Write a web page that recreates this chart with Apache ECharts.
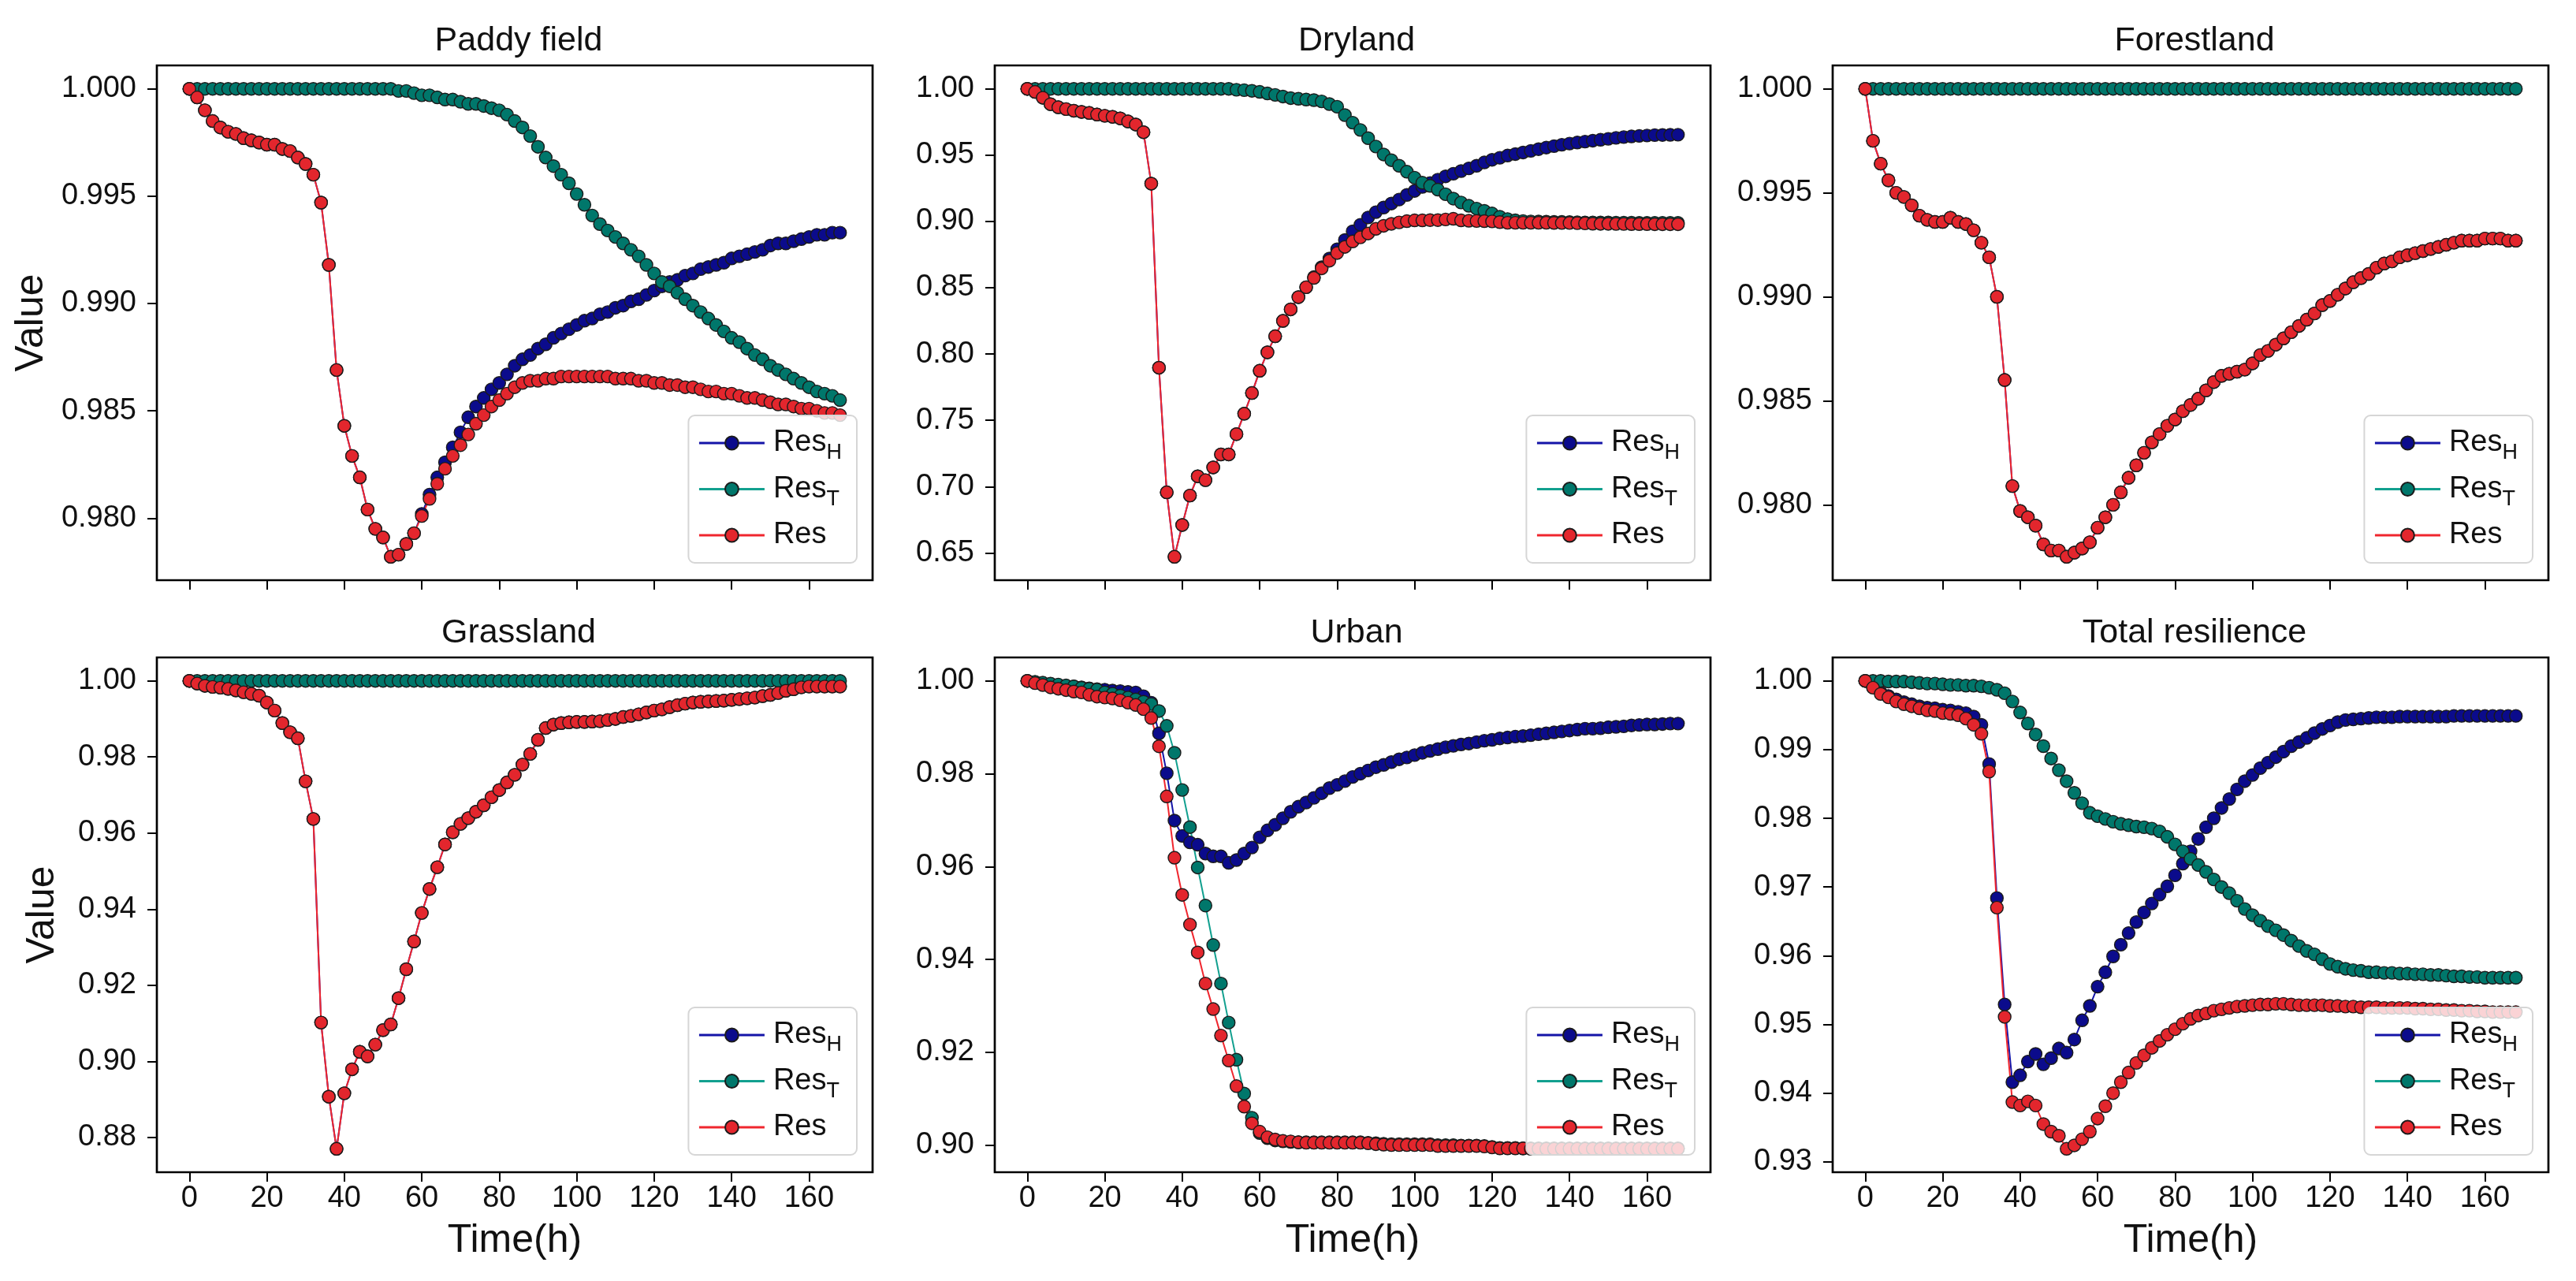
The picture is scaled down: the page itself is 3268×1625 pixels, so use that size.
<!DOCTYPE html>
<html>
<head>
<meta charset="utf-8">
<script src="https://cdn.jsdelivr.net/npm/echarts@6.0.0/dist/echarts.min.js"></script>
<style>
  html, body { margin: 0; padding: 0; background: #fff; }
  #chart { width: 3268px; height: 1625px; }
</style>
</head>
<body>
<div id="chart"></div>
<script>
// time axis (hours), one sample every 2 h
const hours = [
  0, 2, 4, 6, 8, 10, 12, 14, 16, 18,
  20, 22, 24, 26, 28, 30, 32, 34, 36, 38,
  40, 42, 44, 46, 48, 50, 52, 54, 56, 58,
  60, 62, 64, 66, 68, 70, 72, 74, 76, 78,
  80, 82, 84, 86, 88, 90, 92, 94, 96, 98,
  100, 102, 104, 106, 108, 110, 112, 114, 116, 118,
  120, 122, 124, 126, 128, 130, 132, 134, 136, 138,
  140, 142, 144, 146, 148, 150, 152, 154, 156, 158,
  160, 162, 164, 166, 168
];
const xTicks = [0, 20, 40, 60, 80, 100, 120, 140, 160];

// ---- Paddy field ----
const paddyH = [
  1.0000, 0.9996, 0.9990, 0.9985, 0.9982, 0.9980, 0.9979, 0.9977, 0.9976, 0.9975,
  0.9974, 0.9974, 0.9972, 0.9971, 0.9968, 0.9965, 0.9960, 0.9947, 0.9918, 0.9869,
  0.9843, 0.9829, 0.9819, 0.9804, 0.9795, 0.9791, 0.9782, 0.9783, 0.9788, 0.9793,
  0.9802, 0.9811, 0.9819, 0.9826, 0.9833, 0.9840, 0.9847, 0.9852, 0.9856, 0.9860,
  0.9863, 0.9867, 0.9871, 0.9874, 0.9876, 0.9879, 0.9881, 0.9884, 0.9886, 0.9888,
  0.9890, 0.9892, 0.9893, 0.9895, 0.9896, 0.9898, 0.9899, 0.9901, 0.9902, 0.9904,
  0.9906, 0.9908, 0.9910, 0.9911, 0.9913, 0.9914, 0.9916, 0.9917, 0.9918, 0.9919,
  0.9921, 0.9922, 0.9923, 0.9924, 0.9925, 0.9927, 0.9928, 0.9928, 0.9929, 0.9930,
  0.9931, 0.9932, 0.9932, 0.9933, 0.9933
];
const paddyT = [
  1, 1, 1, 1, 1, 1, 1, 1, 1, 1,
  1, 1, 1, 1, 1, 1, 1, 1, 1, 1,
  1, 1, 1, 1, 1, 1, 1, 0.9999, 0.9999, 0.9998,
  0.9997, 0.9997, 0.9996, 0.9995, 0.9995, 0.9994, 0.9993, 0.9993, 0.9992, 0.9991,
  0.9990, 0.9988, 0.9985, 0.9982, 0.9978, 0.9973, 0.9968, 0.9964, 0.9960, 0.9956,
  0.9951, 0.9946, 0.9941, 0.9937, 0.9934, 0.9931, 0.9928, 0.9925, 0.9922, 0.9918,
  0.9914, 0.9910, 0.9908, 0.9905, 0.9902, 0.9899, 0.9896, 0.9893, 0.9890, 0.9887,
  0.9884, 0.9882, 0.9879, 0.9876, 0.9874, 0.9871, 0.9869, 0.9867, 0.9865, 0.9863,
  0.9861, 0.9859, 0.9858, 0.9857, 0.9855
];
const paddyRes = [
  1.0000, 0.9996, 0.9990, 0.9985, 0.9982, 0.9980, 0.9979, 0.9977, 0.9976, 0.9975,
  0.9974, 0.9974, 0.9972, 0.9971, 0.9968, 0.9965, 0.9960, 0.9947, 0.9918, 0.9869,
  0.9843, 0.9829, 0.9819, 0.9804, 0.9795, 0.9791, 0.9782, 0.9783, 0.9788, 0.9793,
  0.9801, 0.9809, 0.9816, 0.9823, 0.9829, 0.9834, 0.9839, 0.9844, 0.9848, 0.9852,
  0.9855, 0.9858, 0.9861, 0.9863, 0.9864, 0.9864, 0.9865, 0.9865, 0.9866, 0.9866,
  0.9866, 0.9866, 0.9866, 0.9866, 0.9866, 0.9865, 0.9865, 0.9865, 0.9864, 0.9864,
  0.9863, 0.9863, 0.9862, 0.9862, 0.9861, 0.9861, 0.9860, 0.9859, 0.9859, 0.9858,
  0.9858, 0.9857, 0.9856, 0.9856, 0.9855, 0.9854, 0.9853, 0.9853, 0.9852, 0.9851,
  0.9851, 0.9850, 0.9849, 0.9849, 0.9848
];
const paddyTicks = [0.980, 0.985, 0.990, 0.995, 1.000];

// ---- Dryland ----
const dryH = [
  1.0000, 0.9977, 0.9933, 0.9884, 0.9861, 0.9847, 0.9835, 0.9826, 0.9818, 0.9806,
  0.9797, 0.9789, 0.9777, 0.9754, 0.9731, 0.9673, 0.9285, 0.7897, 0.6957, 0.6471,
  0.6711, 0.6933, 0.7078, 0.7049, 0.7145, 0.7243, 0.7243, 0.7396, 0.7550, 0.7706,
  0.7874, 0.8013, 0.8134, 0.8250, 0.8337, 0.8429, 0.8504, 0.8580, 0.8655, 0.8720,
  0.8790, 0.8860, 0.8925, 0.8975, 0.9030, 0.9070, 0.9105, 0.9135, 0.9165, 0.9200,
  0.9230, 0.9260, 0.9290, 0.9315, 0.9340, 0.9360, 0.9380, 0.9400, 0.9420, 0.9445,
  0.9465, 0.9480, 0.9497, 0.9508, 0.9520, 0.9532, 0.9545, 0.9557, 0.9568, 0.9578,
  0.9587, 0.9595, 0.9602, 0.9609, 0.9616, 0.9623, 0.9630, 0.9636, 0.9641, 0.9645,
  0.9648, 0.9651, 0.9652, 0.9653, 0.9654
];
const dryT = [
  1, 1, 1, 1, 1, 1, 1, 1, 1, 1,
  1, 1, 1, 1, 1, 1, 1, 1, 1, 1,
  1, 1, 1, 1, 1, 1, 1, 0.9993, 0.9990, 0.9985,
  0.9977, 0.9965, 0.9954, 0.9942, 0.9930, 0.9925, 0.9919, 0.9915, 0.9905, 0.9885,
  0.9865, 0.9802, 0.9745, 0.9690, 0.9628, 0.9565, 0.9505, 0.9462, 0.9420, 0.9375,
  0.9330, 0.9292, 0.9268, 0.9240, 0.9205, 0.9172, 0.9143, 0.9118, 0.9097, 0.9080,
  0.9060, 0.9035, 0.9018, 0.9008, 0.9003, 0.9000, 0.8999, 0.8998, 0.8997, 0.8996,
  0.8995, 0.8994, 0.8993, 0.8993, 0.8992, 0.8992, 0.8991, 0.8991, 0.8991, 0.8990,
  0.8990, 0.8990, 0.8990, 0.8990, 0.8990
];
const dryRes = [
  1.0000, 0.9977, 0.9933, 0.9884, 0.9861, 0.9847, 0.9835, 0.9826, 0.9818, 0.9806,
  0.9797, 0.9789, 0.9777, 0.9754, 0.9731, 0.9673, 0.9285, 0.7897, 0.6957, 0.6471,
  0.6711, 0.6933, 0.7078, 0.7049, 0.7145, 0.7243, 0.7243, 0.7396, 0.7550, 0.7706,
  0.7874, 0.8013, 0.8134, 0.8250, 0.8337, 0.8429, 0.8504, 0.8574, 0.8646, 0.8704,
  0.8762, 0.8808, 0.8849, 0.8880, 0.8909, 0.8944, 0.8967, 0.8982, 0.8993, 0.9002,
  0.9008, 0.9008, 0.9010, 0.9010, 0.9015, 0.9020, 0.9008, 0.9005, 0.9003, 0.9002,
  0.9000, 0.8995, 0.8990, 0.8990, 0.8990, 0.8990, 0.8990, 0.8990, 0.8989, 0.8988,
  0.8988, 0.8987, 0.8985, 0.8983, 0.8982, 0.8982, 0.8981, 0.8981, 0.8980, 0.8980,
  0.8980, 0.8979, 0.8979, 0.8979, 0.8979
];
const dryTicks = [0.65, 0.70, 0.75, 0.80, 0.85, 0.90, 0.95, 1.00];

// ---- Forestland ----
const forestH = [
  1.0000, 0.9975, 0.9964, 0.9956, 0.9950, 0.9948, 0.9944, 0.9939, 0.9937, 0.9936,
  0.9936, 0.9938, 0.9936, 0.9935, 0.9932, 0.9926, 0.9919, 0.9900, 0.9860, 0.9809,
  0.9797, 0.9794, 0.9790, 0.9781, 0.9778, 0.9778, 0.9775, 0.9777, 0.9779, 0.9782,
  0.9789, 0.9794, 0.9800, 0.9806, 0.9813, 0.9819, 0.9825, 0.9830, 0.9834, 0.9838,
  0.9841, 0.9845, 0.9848, 0.9851, 0.9855, 0.9859, 0.9862, 0.9863, 0.9864, 0.9865,
  0.9868, 0.9872, 0.9874, 0.9877, 0.9880, 0.9883, 0.9886, 0.9889, 0.9892, 0.9896,
  0.9898, 0.9901, 0.9904, 0.9907, 0.9909, 0.9911, 0.9914, 0.9916, 0.9917, 0.9919,
  0.9920, 0.9921, 0.9922, 0.9923, 0.9924, 0.9925, 0.9926, 0.9927, 0.9927, 0.9927,
  0.9928, 0.9928, 0.9928, 0.9927, 0.9927
];
const forestT = [
  1, 1, 1, 1, 1, 1, 1, 1, 1, 1,
  1, 1, 1, 1, 1, 1, 1, 1, 1, 1,
  1, 1, 1, 1, 1, 1, 1, 1, 1, 1,
  1, 1, 1, 1, 1, 1, 1, 1, 1, 1,
  1, 1, 1, 1, 1, 1, 1, 1, 1, 1,
  1, 1, 1, 1, 1, 1, 1, 1, 1, 1,
  1, 1, 1, 1, 1, 1, 1, 1, 1, 1,
  1, 1, 1, 1, 1, 1, 1, 1, 1, 1,
  1, 1, 1, 1, 1
];
const forestRes = [
  1.0000, 0.9975, 0.9964, 0.9956, 0.9950, 0.9948, 0.9944, 0.9939, 0.9937, 0.9936,
  0.9936, 0.9938, 0.9936, 0.9935, 0.9932, 0.9926, 0.9919, 0.9900, 0.9860, 0.9809,
  0.9797, 0.9794, 0.9790, 0.9781, 0.9778, 0.9778, 0.9775, 0.9777, 0.9779, 0.9782,
  0.9789, 0.9794, 0.9800, 0.9806, 0.9813, 0.9819, 0.9825, 0.9830, 0.9834, 0.9838,
  0.9841, 0.9845, 0.9848, 0.9851, 0.9855, 0.9859, 0.9862, 0.9863, 0.9864, 0.9865,
  0.9868, 0.9872, 0.9874, 0.9877, 0.9880, 0.9883, 0.9886, 0.9889, 0.9892, 0.9896,
  0.9898, 0.9901, 0.9904, 0.9907, 0.9909, 0.9911, 0.9914, 0.9916, 0.9917, 0.9919,
  0.9920, 0.9921, 0.9922, 0.9923, 0.9924, 0.9925, 0.9926, 0.9927, 0.9927, 0.9927,
  0.9928, 0.9928, 0.9928, 0.9927, 0.9927
];
const forestTicks = [0.980, 0.985, 0.990, 0.995, 1.000];

// ---- Grassland ----
const grassH = [
  1.0000, 0.9993, 0.9987, 0.9984, 0.9982, 0.9979, 0.9975, 0.9970, 0.9966, 0.9961,
  0.9943, 0.9922, 0.9889, 0.9865, 0.9849, 0.9736, 0.9637, 0.9102, 0.8907, 0.8770,
  0.8916, 0.8979, 0.9025, 0.9013, 0.9044, 0.9082, 0.9097, 0.9166, 0.9242, 0.9315,
  0.9390, 0.9453, 0.9510, 0.9570, 0.9602, 0.9624, 0.9639, 0.9656, 0.9673, 0.9694,
  0.9713, 0.9733, 0.9753, 0.9780, 0.9808, 0.9845, 0.9876, 0.9885, 0.9889, 0.9891,
  0.9892, 0.9892, 0.9893, 0.9894, 0.9897, 0.9900, 0.9905, 0.9908, 0.9912, 0.9917,
  0.9922, 0.9925, 0.9931, 0.9936, 0.9940, 0.9943, 0.9945, 0.9946, 0.9947, 0.9948,
  0.9950, 0.9952, 0.9954, 0.9956, 0.9960, 0.9963, 0.9968, 0.9974, 0.9978, 0.9983,
  0.9985, 0.9985, 0.9985, 0.9985, 0.9985
];
const grassT = [
  1, 1, 1, 1, 1, 1, 1, 1, 1, 1,
  1, 1, 1, 1, 1, 1, 1, 1, 1, 1,
  1, 1, 1, 1, 1, 1, 1, 1, 1, 1,
  1, 1, 1, 1, 1, 1, 1, 1, 1, 1,
  1, 1, 1, 1, 1, 1, 1, 1, 1, 1,
  1, 1, 1, 1, 1, 1, 1, 1, 1, 1,
  1, 1, 1, 1, 1, 1, 1, 1, 1, 1,
  1, 1, 1, 1, 1, 1, 1, 1, 1, 1,
  1, 1, 1, 1, 1
];
const grassRes = [
  1.0000, 0.9993, 0.9987, 0.9984, 0.9982, 0.9979, 0.9975, 0.9970, 0.9966, 0.9961,
  0.9943, 0.9922, 0.9889, 0.9865, 0.9849, 0.9736, 0.9637, 0.9102, 0.8907, 0.8770,
  0.8916, 0.8979, 0.9025, 0.9013, 0.9044, 0.9082, 0.9097, 0.9166, 0.9242, 0.9315,
  0.9390, 0.9453, 0.9510, 0.9570, 0.9602, 0.9624, 0.9639, 0.9656, 0.9673, 0.9694,
  0.9713, 0.9733, 0.9753, 0.9780, 0.9808, 0.9845, 0.9876, 0.9885, 0.9889, 0.9891,
  0.9892, 0.9892, 0.9893, 0.9894, 0.9897, 0.9900, 0.9905, 0.9908, 0.9912, 0.9917,
  0.9922, 0.9925, 0.9931, 0.9936, 0.9940, 0.9943, 0.9945, 0.9946, 0.9947, 0.9948,
  0.9950, 0.9952, 0.9954, 0.9956, 0.9960, 0.9963, 0.9968, 0.9974, 0.9978, 0.9983,
  0.9985, 0.9985, 0.9985, 0.9985, 0.9985
];
const grassTicks = [0.88, 0.90, 0.92, 0.94, 0.96, 0.98, 1.00];

// ---- Urban ----
const urbanH = [
  1.0000, 0.9997, 0.9995, 0.9993, 0.9991, 0.9989, 0.9988, 0.9986, 0.9984, 0.9982,
  0.9981, 0.9979, 0.9978, 0.9976, 0.9975, 0.9967, 0.9953, 0.9887, 0.9801, 0.9699,
  0.9666, 0.9652, 0.9647, 0.9628, 0.9622, 0.9622, 0.9608, 0.9614, 0.9628, 0.9641,
  0.9663, 0.9678, 0.9690, 0.9704, 0.9718, 0.9729, 0.9738, 0.9748, 0.9758, 0.9769,
  0.9776, 0.9784, 0.9793, 0.9800, 0.9807, 0.9814, 0.9819, 0.9825, 0.9831, 0.9835,
  0.9840, 0.9845, 0.9849, 0.9853, 0.9857, 0.9860, 0.9863, 0.9865, 0.9868, 0.9871,
  0.9873, 0.9876, 0.9878, 0.9880, 0.9881, 0.9883, 0.9885, 0.9887, 0.9889, 0.9891,
  0.9893, 0.9895, 0.9897, 0.9897, 0.9898, 0.9900, 0.9901, 0.9902, 0.9904, 0.9905,
  0.9906, 0.9906, 0.9907, 0.9908, 0.9908
];
const urbanT = [
  1.0000, 0.9998, 0.9996, 0.9994, 0.9992, 0.9990, 0.9988, 0.9985, 0.9983, 0.9981,
  0.9975, 0.9972, 0.9968, 0.9964, 0.9960, 0.9955, 0.9950, 0.9935, 0.9903, 0.9845,
  0.9765, 0.9685, 0.9598, 0.9516, 0.9431, 0.9348, 0.9264, 0.9184, 0.9111, 0.9059,
  0.9026, 0.9015, 0.9010, 0.9008, 0.9007, 0.9006, 0.9006, 0.9006, 0.9006, 0.9006,
  0.9006, 0.9006, 0.9006, 0.9006, 0.9005, 0.9004, 0.9003, 0.9002, 0.9002, 0.9002,
  0.9002, 0.9002, 0.9002, 0.9000, 0.9000, 0.9000, 0.8999, 0.8999, 0.8999, 0.8998,
  0.8996, 0.8994, 0.8994, 0.8994, 0.8993, 0.8993, 0.8993, 0.8993, 0.8993, 0.8993,
  0.8993, 0.8993, 0.8993, 0.8993, 0.8993, 0.8993, 0.8993, 0.8993, 0.8993, 0.8993,
  0.8993, 0.8993, 0.8993, 0.8993, 0.8993
];
const urbanRes = [
  1.0000, 0.9995, 0.9991, 0.9986, 0.9983, 0.9980, 0.9977, 0.9975, 0.9970, 0.9966,
  0.9964, 0.9962, 0.9958, 0.9953, 0.9948, 0.9939, 0.9920, 0.9859, 0.9751, 0.9619,
  0.9539, 0.9475, 0.9415, 0.9348, 0.9293, 0.9236, 0.9182, 0.9127, 0.9083, 0.9047,
  0.9029, 0.9017, 0.9012, 0.9009, 0.9008, 0.9006, 0.9005, 0.9005, 0.9005, 0.9005,
  0.9005, 0.9005, 0.9005, 0.9005, 0.9004, 0.9002, 0.9001, 0.9000, 0.9000, 0.9000,
  0.9000, 0.9000, 0.9000, 0.8998, 0.8998, 0.8998, 0.8998, 0.8998, 0.8998, 0.8997,
  0.8995, 0.8993, 0.8993, 0.8993, 0.8993, 0.8992, 0.8992, 0.8992, 0.8992, 0.8992,
  0.8992, 0.8992, 0.8992, 0.8992, 0.8992, 0.8992, 0.8992, 0.8992, 0.8992, 0.8992,
  0.8992, 0.8992, 0.8992, 0.8992, 0.8992
];
const urbanTicks = [0.90, 0.92, 0.94, 0.96, 0.98, 1.00];

// ---- Total resilience ----
const totalH = [
  1.0000, 0.9991, 0.9983, 0.9978, 0.9973, 0.9969, 0.9966, 0.9963, 0.9961, 0.9960,
  0.9958, 0.9957, 0.9955, 0.9953, 0.9948, 0.9936, 0.9879, 0.9684, 0.9529, 0.9416,
  0.9426, 0.9446, 0.9457, 0.9442, 0.9451, 0.9465, 0.9459, 0.9478, 0.9506, 0.9527,
  0.9555, 0.9576, 0.9599, 0.9616, 0.9633, 0.9649, 0.9663, 0.9676, 0.9689, 0.9701,
  0.9717, 0.9734, 0.9752, 0.9770, 0.9787, 0.9800, 0.9815, 0.9828, 0.9842, 0.9854,
  0.9863, 0.9873, 0.9881, 0.9889, 0.9897, 0.9905, 0.9911, 0.9917, 0.9924, 0.9930,
  0.9935, 0.9940, 0.9943, 0.9944, 0.9945, 0.9946, 0.9947, 0.9947, 0.9947, 0.9948,
  0.9948, 0.9948, 0.9948, 0.9948, 0.9948, 0.9948, 0.9949, 0.9949, 0.9949, 0.9949,
  0.9949, 0.9949, 0.9949, 0.9949, 0.9949
];
const totalT = [
  1.0000, 1.0000, 1.0000, 0.9999, 0.9999, 0.9999, 0.9998, 0.9997, 0.9996, 0.9996,
  0.9995, 0.9994, 0.9994, 0.9993, 0.9993, 0.9992, 0.9990, 0.9987, 0.9982, 0.9970,
  0.9954, 0.9938, 0.9922, 0.9905, 0.9887, 0.9870, 0.9854, 0.9837, 0.9822, 0.9808,
  0.9803, 0.9799, 0.9795, 0.9792, 0.9790, 0.9788, 0.9787, 0.9785, 0.9781, 0.9773,
  0.9762, 0.9752, 0.9741, 0.9732, 0.9722, 0.9711, 0.9700, 0.9691, 0.9680, 0.9668,
  0.9659, 0.9651, 0.9643, 0.9637, 0.9630, 0.9622, 0.9614, 0.9607, 0.9602, 0.9595,
  0.9588, 0.9584, 0.9581, 0.9579, 0.9578, 0.9576, 0.9576, 0.9575, 0.9575, 0.9574,
  0.9574, 0.9573, 0.9573, 0.9572, 0.9572, 0.9571, 0.9570, 0.9570, 0.9569, 0.9569,
  0.9568, 0.9568, 0.9568, 0.9568, 0.9568
];
const totalRes = [
  1.0000, 0.9990, 0.9981, 0.9976, 0.9970, 0.9966, 0.9963, 0.9960, 0.9957, 0.9956,
  0.9953, 0.9952, 0.9950, 0.9945, 0.9936, 0.9923, 0.9868, 0.9670, 0.9511, 0.9387,
  0.9382, 0.9388, 0.9382, 0.9355, 0.9344, 0.9338, 0.9319, 0.9324, 0.9333, 0.9344,
  0.9363, 0.9381, 0.9400, 0.9416, 0.9430, 0.9444, 0.9455, 0.9466, 0.9476, 0.9485,
  0.9493, 0.9501, 0.9508, 0.9513, 0.9516, 0.9520, 0.9522, 0.9524, 0.9526, 0.9527,
  0.9528, 0.9529, 0.9529, 0.9530, 0.9530, 0.9529, 0.9528, 0.9528, 0.9528, 0.9528,
  0.9527, 0.9527, 0.9526, 0.9526, 0.9525, 0.9525, 0.9525, 0.9524, 0.9524, 0.9524,
  0.9524, 0.9523, 0.9523, 0.9522, 0.9522, 0.9521, 0.9521, 0.9520, 0.9520, 0.9519,
  0.9519, 0.9518, 0.9518, 0.9518, 0.9518
];
const totalTicks = [0.93, 0.94, 0.95, 0.96, 0.97, 0.98, 0.99, 1.00];

const panels = [
  { title: 'Paddy field', H: paddyH, T: paddyT, R: paddyRes, ticks: paddyTicks, digits: 3 },
  { title: 'Dryland', H: dryH, T: dryT, R: dryRes, ticks: dryTicks, digits: 2 },
  { title: 'Forestland', H: forestH, T: forestT, R: forestRes, ticks: forestTicks, digits: 3 },
  { title: 'Grassland', H: grassH, T: grassT, R: grassRes, ticks: grassTicks, digits: 2 },
  { title: 'Urban', H: urbanH, T: urbanT, R: urbanRes, ticks: urbanTicks, digits: 2 },
  { title: 'Total resilience', H: totalH, T: totalT, R: totalRes, ticks: totalTicks, digits: 2 }
];

// layout (px)
const W = 3268, HT = 1625;
const colLeft = [199, 1262, 2325];
const rowTop = [83, 834];
const gridW = 908, gridH = 653;
const font = "'Liberation Sans', Arial, sans-serif";
const ink = '#111';

const seriesStyle = {
  H: { name: 'ResH', line: '#1414a8', fill: '#0b0b8c' },
  T: { name: 'ResT', line: '#12a08f', fill: '#00776b' },
  R: { name: 'Res', line: '#f0262e', fill: '#e3262d' }
};
const legendText = { ResH: '{m|Res}{s|H}', ResT: '{m|Res}{s|T}', Res: '{m|Res}' };

// matplotlib-like 5% margins
const xPad = (hours[hours.length - 1] - hours[0]) * 0.05;
const xMin = hours[0] - xPad, xMax = hours[hours.length - 1] + xPad;

const pair = (ys) => hours.map((t, i) => [t, ys[i]]);

const grid = [], xAxis = [], yAxis = [], series = [], title = [], legend = [];

panels.forEach((p, i) => {
  const col = i % 3, row = Math.floor(i / 3);
  const left = colLeft[col], top = rowTop[row];

  grid.push({
    left: left, top: top, width: gridW, height: gridH,
    show: true, borderColor: '#000', borderWidth: 2.7, backgroundColor: 'transparent'
  });

  title.push({
    text: p.title,
    left: left + gridW / 2,
    top: row ? 777 : 26,
    textAlign: 'center',
    textStyle: { fontSize: 43, fontWeight: 'normal', color: ink, fontFamily: font }
  });

  const all = p.H.concat(p.T, p.R);
  const lo = Math.min.apply(null, all), hi = Math.max.apply(null, all);
  const pad = (hi - lo) * 0.05;

  xAxis.push({
    gridIndex: i, type: 'value', min: xMin, max: xMax,
    axisLine: { show: false, onZero: false },
    splitLine: { show: false },
    axisTick: { show: true, customValues: xTicks, length: 12, lineStyle: { color: '#000', width: 2 } },
    axisLabel: {
      show: row === 1, customValues: xTicks, margin: 15,
      fontSize: 38, color: ink, fontFamily: font
    },
    name: row === 1 ? 'Time(h)' : '',
    nameLocation: 'middle', nameGap: 62, nameMoveOverlap: false,
    nameTextStyle: { fontSize: 50, color: ink, fontFamily: font }
  });

  yAxis.push({
    gridIndex: i, type: 'value', min: lo - pad, max: hi + pad,
    axisLine: { show: false, onZero: false },
    splitLine: { show: false },
    axisTick: { show: true, customValues: p.ticks, length: 12, lineStyle: { color: '#000', width: 2 } },
    axisLabel: {
      customValues: p.ticks, margin: 26,
      formatter: (v) => v.toFixed(p.digits),
      fontSize: 38, color: ink, fontFamily: font
    },
    name: col === 0 ? 'Value' : '',
    nameLocation: 'middle', nameGap: row ? 120 : 134, nameMoveOverlap: false,
    nameTextStyle: { fontSize: 50, color: ink, fontFamily: font }
  });

  ['H', 'T', 'R'].forEach((k) => {
    const s = seriesStyle[k];
    series.push({
      type: 'line', name: s.name,
      xAxisIndex: i, yAxisIndex: i,
      data: pair(p[k]),
      symbol: 'circle', symbolSize: 16, showAllSymbol: true,
      lineStyle: { color: s.line, width: 2 },
      itemStyle: { color: s.fill, borderColor: '#1b1b1b', borderWidth: 1.4 },
      emphasis: { disabled: true },
      animation: false
    });
  });

  legend.push({
    data: ['ResH', 'ResT', 'Res'],
    orient: 'vertical',
    right: W - (left + gridW) + 20,
    bottom: HT - (top + gridH) + 22,
    itemWidth: 83, itemHeight: 21, itemGap: 13,
    padding: [16, 19, 16, 12],
    backgroundColor: 'rgba(255,255,255,0.8)',
    borderColor: '#d6d6d6', borderWidth: 2, borderRadius: 8,
    selectedMode: false,
    lineStyle: { width: 3 },
    formatter: (n) => legendText[n],
    textStyle: {
      fontSize: 38, color: ink, fontFamily: font,
      rich: {
        m: { fontSize: 38, lineHeight: 40, color: ink, fontFamily: font, padding: [0, 0, 0, 6] },
        // subscript: short token box pinned to the bottom of the line
        s: { fontSize: 27, height: 14, lineHeight: 14, verticalAlign: 'bottom', color: ink, fontFamily: font }
      }
    }
  });
});

const chart = echarts.init(document.getElementById('chart'));
chart.setOption({
  backgroundColor: '#fff',
  animation: false,
  title: title,
  grid: grid,
  xAxis: xAxis,
  yAxis: yAxis,
  legend: legend,
  series: series
});
</script>
</body>
</html>
